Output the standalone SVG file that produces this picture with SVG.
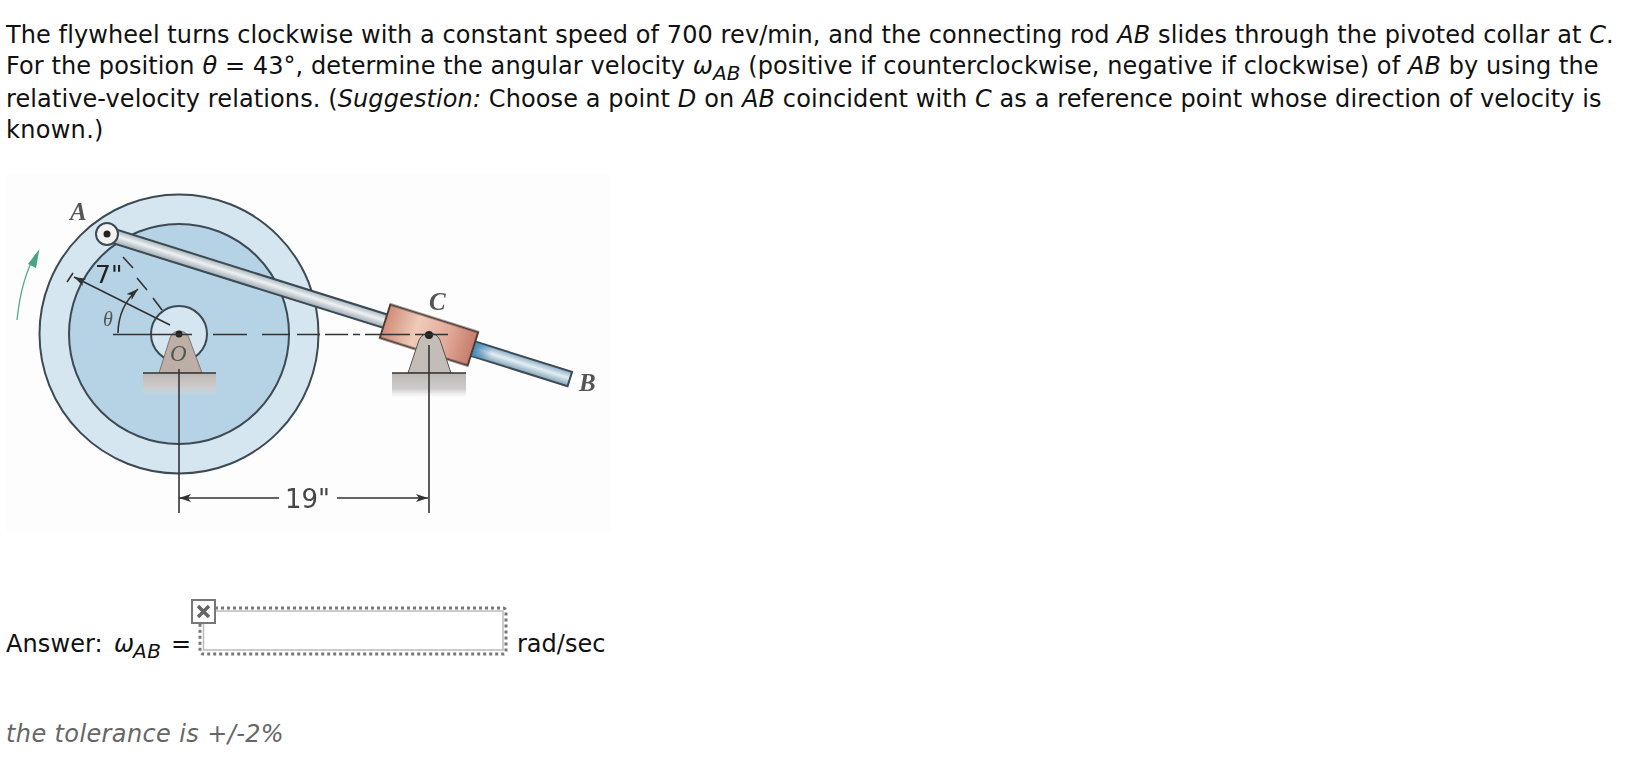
<svg xmlns="http://www.w3.org/2000/svg" width="1640" height="778" viewBox="0 0 1640 778">
<defs>
<linearGradient id="rodg" gradientUnits="userSpaceOnUse" x1="0" y1="-7" x2="0" y2="7"><stop offset="0" stop-color="#a6b3bb"/><stop offset=".45" stop-color="#eef1f3"/><stop offset="1" stop-color="#9aa8b2"/></linearGradient>
<linearGradient id="rodb" gradientUnits="userSpaceOnUse" x1="0" y1="-7" x2="0" y2="7"><stop offset="0" stop-color="#8fb0c6"/><stop offset=".45" stop-color="#e3eef4"/><stop offset="1" stop-color="#86a6bc"/></linearGradient>
<linearGradient id="colg" gradientUnits="userSpaceOnUse" x1="-46" y1="0" x2="46" y2="0"><stop offset="0" stop-color="#cf8d79"/><stop offset=".35" stop-color="#efcbb9"/><stop offset=".7" stop-color="#e2a998"/><stop offset="1" stop-color="#c57c6b"/></linearGradient>
<linearGradient id="shade" gradientUnits="userSpaceOnUse" x1="46" y1="0" x2="66" y2="0"><stop offset="0" stop-color="#3f86b4"/><stop offset="1" stop-color="#3f86b4" stop-opacity="0"/></linearGradient>
<linearGradient id="gnd" x1="0" y1="0" x2="0" y2="1"><stop offset="0" stop-color="#bdb8b4"/><stop offset=".65" stop-color="#cdcbca"/><stop offset="1" stop-color="#d8d8d8" stop-opacity="0"/></linearGradient>
<marker id="ah" viewBox="0 0 12 8" refX="12" refY="4" markerWidth="12" markerHeight="8" markerUnits="userSpaceOnUse" orient="auto-start-reverse"><path d="M0 0L12 4L0 8L3 4Z" fill="#333"/></marker>
<filter id="soft" x="-5%" y="-5%" width="110%" height="110%"><feGaussianBlur stdDeviation="0.45"/></filter>
</defs>
<style>
text{font-family:"DejaVu Sans","Liberation Sans",sans-serif;font-size:24px;fill:#111}
.i{font-style:italic}
.s{font-size:20px;font-style:italic}
.l{font-family:"Liberation Serif",serif;font-style:italic;font-size:25px;fill:#555;font-weight:bold}
.k{stroke:#3c4a52;stroke-width:2}
.d{fill:none;stroke:#333;stroke-width:1.6}
.f{filter:url(#soft)}
</style>
<rect width="1640" height="778" fill="#fff"/>
<g id="question">
<text x="6" y="43" letter-spacing=".085">The flywheel turns clockwise with a constant speed of 700 rev/min, and the connecting rod <tspan class="i">AB</tspan> slides through the pivoted collar at <tspan class="i">C</tspan>.</text>
<text x="6" y="74" letter-spacing=".09">For the position <tspan class="i">θ</tspan> = 43°, determine the angular velocity <tspan class="i">ω</tspan><tspan class="s" dy="6">AB</tspan><tspan dy="-6"> (positive if counterclockwise, negative if clockwise) of </tspan><tspan class="i">AB</tspan> by using the</text>
<text x="6" y="107" letter-spacing=".105">relative-velocity relations. (<tspan class="i">Suggestion:</tspan> Choose a point <tspan class="i">D</tspan> on <tspan class="i">AB</tspan> coincident with <tspan class="i">C</tspan> as a reference point whose direction of velocity is</text>
<text x="6" y="138" letter-spacing=".3">known.)</text>
</g>
<g id="figure">
<rect x="6" y="174" width="605" height="358" fill="#fdfdfd"/>
</g>
<g id="flywheel" class="f">
<circle cx="179" cy="334" r="139.500" fill="#d5e6f0" class="k"/>
<circle cx="179" cy="334" r="110" fill="#b5d3e5" class="k"/>
<circle cx="179" cy="334" r="28" fill="#d5e6f0" class="k"/>
</g>
<g id="support-o" class="f">
<path d="M159 373L170 338A10 10 0 0 1 189 338L202 373Z" fill="#bdaea6" stroke="#6b625d" stroke-width=".8"/>
<rect x="143" y="373" width="73" height="22" fill="url(#gnd)"/>
<path d="M143 373H216" class="d"/>
<circle cx="179" cy="334" r="3.500" fill="#222"/>
</g>
<g id="rod" class="f">
<g transform="translate(107 234) rotate(17.400)">
<rect x="0" y="-7" width="330" height="14" fill="url(#rodg)" class="k"/>
<rect x="330" y="-7.500" width="155" height="15" fill="url(#rodb)" class="k"/>
</g>
</g>
<g id="collar" class="f" transform="translate(429 335) rotate(17.500)">
<rect x="46" y="-7" width="20" height="14" fill="url(#shade)"/>
<rect x="-46" y="-17.500" width="92" height="35" fill="url(#colg)" stroke="#4a3a36" stroke-width="2"/>
</g>
<g id="support-c" class="f">
<path d="M408 373L419 340A11.500 11.500 0 0 1 440 340L451 373Z" fill="#c4bcb6" stroke="#555" stroke-width="1"/>
<rect x="392" y="373" width="74" height="24" fill="url(#gnd)"/>
<path d="M392 373H466" class="d"/>
<circle cx="429" cy="335" r="4" fill="#222"/>
</g>
<g id="connectors" class="f">
<path d="M113 334.500H192M213 334.500H247M262 334.500H290M297 334.500H320M325 334.500H348M353 334.500H360M365 334.500H410M415 334.500H448" class="d"/>
<path d="M179 369V513" class="d"/>
<path d="M429 345V513" class="d"/>
<path d="M179 498H279" class="d" marker-start="url(#ah)"/>
<path d="M337 498H428" class="d" marker-end="url(#ah)"/>
<path d="M74 277L170 325" class="d" marker-start="url(#ah)"/>
<path d="M118 333A60 60 0 0 1 138 289" class="d" marker-end="url(#ah)"/>
<path d="M123 257L133 268M137 278L147 290M153 298L162 310M67 282L73 273" class="d"/>
<path d="M17 320C20 292 26 270 36 254" fill="none" stroke="#4fa88a" stroke-width="1.300"/>
<path d="M39.500 249L28 264L36 268Z" fill="#45a585"/>
</g>
<g id="pin-a" class="f">
<circle cx="107" cy="234" r="11" fill="#f2f2f2" class="k"/>
<circle cx="107" cy="234" r="3.500" fill="#222"/>
</g>
<g id="labels" class="f">
<text class="l" x="70" y="220">A</text>
<text class="l" x="429" y="310">C</text>
<text class="l" x="579" y="391">B</text>
<text class="l" x="170" y="361" style="font-weight:normal;font-size:23px">O</text>
<text class="l" x="103" y="326" style="font-size:20px;font-weight:normal">θ</text>
<text x="95" y="283" style="font-size:25px;fill:#222">7"</text>
<text x="285" y="508" style="font-size:26px;fill:#444">19"</text>
</g>
<g id="answer">
<text x="6" y="652" letter-spacing=".1">Answer:</text>
<text x="114" y="652" class="i">ω</text>
<text x="133" y="658" class="s" letter-spacing=".5">AB</text>
<text x="171" y="652">=</text>
<rect x="200" y="608" width="306" height="46" rx="3" fill="none" stroke="#777" stroke-width="3" stroke-dasharray="3 3"/>
<rect x="203.500" y="611" width="299.500" height="39" fill="#fff" stroke="#bbb" stroke-width="1.500"/>
<rect x="192" y="600" width="23" height="23" fill="#fff" stroke="#777" stroke-width="2"/>
<path d="M198 606L209 617M209 606L198 617" stroke="#666" stroke-width="3.500" fill="none"/>
<text x="517" y="652">rad/sec</text>
<text x="6" y="742" class="i" letter-spacing=".38" style="fill:#666">the tolerance is +/-2%</text>
</g>
</svg>
